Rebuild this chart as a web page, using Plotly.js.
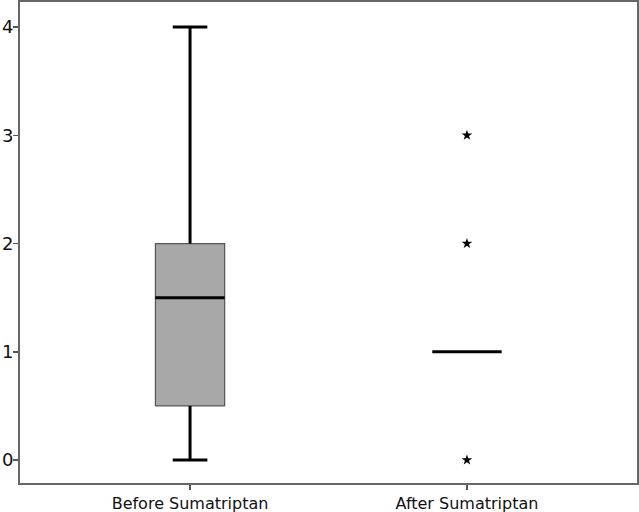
<!DOCTYPE html>
<html>
<head>
<meta charset="utf-8">
<script src="https://cdn.plot.ly/plotly-3.0.1.min.js"></script>
<style>
  html, body { margin: 0; padding: 0; background: #fff; }
  #chart { width: 639px; height: 512px; }
</style>
</head>
<body>
<div id="chart"></div>
<script>
// box summary per group
const categories = ['Before Sumatriptan', 'After Sumatriptan'];
const q1 = [0.5, 1];
const median = [1.5, 1];
const q3 = [2, 1];
const lowerWhisker = [0, 1];
const upperWhisker = [4, 1];
const outliers = [[], [3, 2, 0]];
const yTicks = [0, 1, 2, 3, 4];

const boxHalf = 0.125;
const capHalf = 0.0625;

const traces = [];

// boxes
categories.forEach(function(cat, i) {
    traces.push({
        x: [i - boxHalf, i + boxHalf, i + boxHalf, i - boxHalf, i - boxHalf],
        y: [q1[i], q1[i], q3[i], q3[i], q1[i]],
        type: 'scatter',
        mode: 'lines',
        fill: 'toself',
        fillcolor: '#a8a8a8',
        line: { color: '#555555', width: 1.2 },
        hoverinfo: 'skip',
        showlegend: false
    });
});

// whiskers + caps
var wx = [], wy = [];
categories.forEach(function(cat, i) {
    if (lowerWhisker[i] < q1[i]) {
        wx.push(i, i, null, i - capHalf, i + capHalf, null);
        wy.push(q1[i], lowerWhisker[i], null, lowerWhisker[i], lowerWhisker[i], null);
    }
    if (upperWhisker[i] > q3[i]) {
        wx.push(i, i, null, i - capHalf, i + capHalf, null);
        wy.push(q3[i], upperWhisker[i], null, upperWhisker[i], upperWhisker[i], null);
    }
});
traces.push({
    x: wx, y: wy,
    type: 'scatter', mode: 'lines',
    line: { color: '#000', width: 3 },
    hoverinfo: 'skip', showlegend: false
});

// medians
var mx = [], my = [];
categories.forEach(function(cat, i) {
    mx.push(i - boxHalf, i + boxHalf, null);
    my.push(median[i], median[i], null);
});
traces.push({
    x: mx, y: my,
    type: 'scatter', mode: 'lines',
    line: { color: '#000', width: 3 },
    hoverinfo: 'skip', showlegend: false
});

// extreme values
var ox = [], oy = [];
outliers.forEach(function(vals, i) {
    vals.forEach(function(v) { ox.push(i); oy.push(v); });
});
traces.push({
    x: ox, y: oy,
    type: 'scatter', mode: 'markers',
    marker: { symbol: 'star', size: 8, color: '#000' },
    showlegend: false
});

const layout = {
    width: 639,
    height: 512,
    margin: { l: 20, r: 2, t: 2, b: 29 },
    paper_bgcolor: '#fff',
    plot_bgcolor: '#fff',
    font: { family: 'DejaVu Sans, sans-serif', color: '#111' },
    xaxis: {
        range: [-0.614, 1.614],
        tickvals: categories.map(function(c, i) { return i; }),
        ticktext: categories,
        ticks: 'outside', ticklen: 5, tickwidth: 1.5, tickcolor: '#555',
        tickfont: { size: 16 },
        showgrid: false, zeroline: false,
        showline: true, mirror: true, linecolor: '#666', linewidth: 2
    },
    yaxis: {
        range: [-0.212, 4.231],
        tickvals: yTicks,
        ticks: 'outside', ticklen: 5, tickwidth: 1.5, tickcolor: '#555',
        tickfont: { size: 18 },
        ticklabelstandoff: -4,
        showgrid: false, zeroline: false,
        showline: true, mirror: true, linecolor: '#666', linewidth: 2
    }
};

Plotly.newPlot('chart', traces, layout, { displayModeBar: false, staticPlot: true });
</script>
</body>
</html>
